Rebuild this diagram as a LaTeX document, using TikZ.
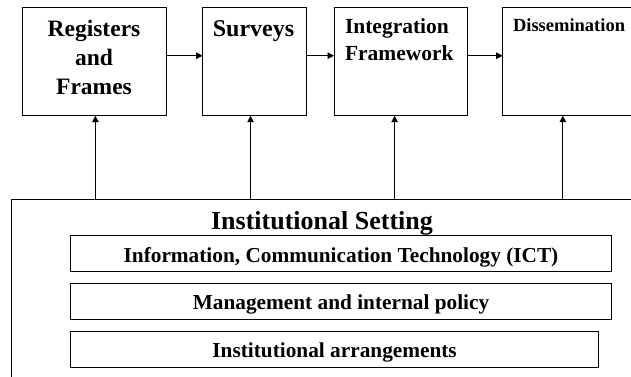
\documentclass[tikz,border=0pt]{standalone}
\usepackage{fontspec}
\setmainfont{Liberation Serif}
\usetikzlibrary{arrows.meta}
\begin{document}
\begin{tikzpicture}[x=1pt,y=-1pt,line width=0.8pt,
  frame/.style={draw=black,inner sep=0pt,outer sep=0pt},
  lbl/.style={inner sep=0pt,outer sep=0pt,font=\bfseries},
  bar/.style={frame,minimum height=36pt,text height=16.6pt,text depth=0pt,font=\fontsize{21.3}{25}\bfseries},
  arr/.style={-{Triangle[length=6.5pt,width=6.5pt]}}]
\clip (0,0) rectangle (631,376);
% top boxes
\node[frame,minimum width=144.4pt,minimum height=108.4pt] (b1) at (94.5,61.5) {};
\node[frame,minimum width=104pt,minimum height=108.4pt] (b2) at (254.7,61.5) {};
\node[frame,minimum width=133.3pt,minimum height=108.4pt] (b3) at (400.7,61.5) {};
\node[frame,minimum width=177.3pt,minimum height=108.4pt] (b4) at (591.3,61.5) {};
% top texts (base anchor = last line)
\node[lbl,align=center,font=\fontsize{23.5}{28.8}\bfseries,anchor=base] (t1) at (94,94.2) {Registers\\and\\Frames};
\node[lbl,font=\fontsize{24}{29}\bfseries,anchor=base] (t2) at (253.5,36) {Surveys};
\node[lbl,align=left,font=\fontsize{21.5}{26.3}\bfseries,anchor=base west] (t3) at (345,60) {Integration\\Framework};
\node[lbl,font=\fontsize{18.5}{22}\bfseries,anchor=base west] (t4) at (513,31) {Dissemination};
% horizontal arrows
\coordinate (h) at (0,55.7);
\draw[arr] (b1.east |- h) -- (b2.west |- h);
\draw[arr] (b2.east |- h) -- (b3.west |- h);
\draw[arr] (b3.east |- h) -- (b4.west |- h);
% institutional setting
\node[frame,minimum width=689pt,minimum height=220.5pt] (inst) at (355.5,309.75) {};
\node[lbl,font=\fontsize{26}{30}\bfseries,anchor=base] (title) at (322,229) {Institutional Setting};
\node[bar,minimum width=541.3pt] (ict) at (341,253.7) {Information, Communication Technology (ICT)};
\node[bar,minimum width=541.3pt] (mgmt) at (341,301.3) {Management and internal policy};
\node[bar,minimum width=528.4pt] (arrg) at (334.6,349.2) {Institutional arrangements};
% vertical arrows
\coordinate (v1) at (95.4,0);
\coordinate (v2) at (250.5,0);
\coordinate (v3) at (394.6,0);
\coordinate (v4) at (562.8,0);
\draw[arr] (inst.north -| v1) -- (b1.south -| v1);
\draw[arr] (inst.north -| v2) -- (b2.south -| v2);
\draw[arr] (inst.north -| v3) -- (b3.south -| v3);
\draw[arr] (inst.north -| v4) -- (b4.south -| v4);
\end{tikzpicture}
\end{document}
